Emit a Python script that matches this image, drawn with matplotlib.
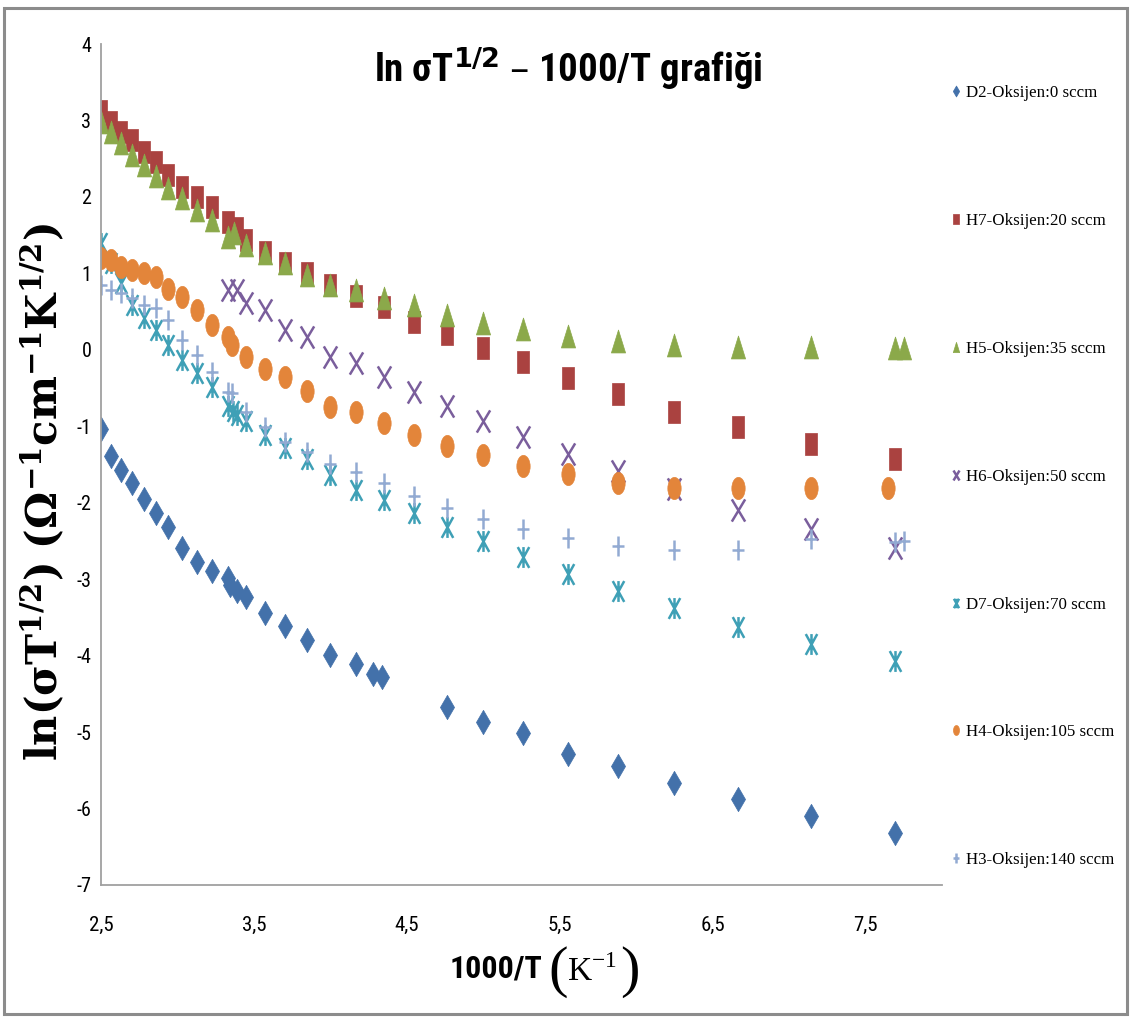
import matplotlib
matplotlib.use("Agg")
import matplotlib.pyplot as plt
from matplotlib.path import Path
from matplotlib.transforms import Affine2D
from matplotlib.patches import Rectangle

# ---- data: x = 1000/T (K^-1), y = ln(sigma*T^1/2) ----
d2_x = [2.500, 2.564, 2.632, 2.703, 2.778, 2.857, 2.941, 3.030, 3.125, 3.226,
        3.333, 3.345, 3.390, 3.448, 3.571, 3.704, 3.846, 4.000, 4.167, 4.280,
        4.340, 4.762, 5.000, 5.263, 5.556, 5.882, 6.250, 6.667, 7.143, 7.692]
d2_y = [-1.04, -1.39, -1.57, -1.74, -1.95, -2.13, -2.32, -2.59, -2.78, -2.89,
        -2.98, -3.08, -3.15, -3.23, -3.44, -3.61, -3.80, -3.99, -4.11, -4.24,
        -4.28, -4.67, -4.87, -5.01, -5.29, -5.44, -5.67, -5.87, -6.10, -6.32]

h7_x = [2.500, 2.564, 2.632, 2.703, 2.778, 2.857, 2.941, 3.030, 3.125, 3.226,
        3.333, 3.390, 3.448, 3.571, 3.704, 3.846, 4.000, 4.167, 4.348, 4.545,
        4.762, 5.000, 5.263, 5.556, 5.882, 6.250, 6.667, 7.143, 7.692]
h7_y = [3.12, 2.98, 2.85, 2.74, 2.59, 2.46, 2.29, 2.13, 2.00, 1.87,
        1.67, 1.59, 1.43, 1.28, 1.14, 1.00, 0.85, 0.71, 0.56, 0.36,
        0.21, 0.02, -0.16, -0.37, -0.58, -0.81, -1.01, -1.23, -1.43]

h5_x = [2.500, 2.564, 2.632, 2.703, 2.778, 2.857, 2.941, 3.030, 3.125, 3.226,
        3.333, 3.370, 3.448, 3.571, 3.704, 3.846, 4.000, 4.167, 4.348, 4.545,
        4.762, 5.000, 5.263, 5.556, 5.882, 6.250, 6.667, 7.143, 7.692, 7.752]
h5_y = [2.98, 2.85, 2.70, 2.55, 2.42, 2.27, 2.12, 1.99, 1.83, 1.70,
        1.47, 1.53, 1.37, 1.27, 1.14, 0.98, 0.85, 0.78, 0.68, 0.59,
        0.46, 0.35, 0.27, 0.18, 0.11, 0.06, 0.04, 0.04, 0.03, 0.03]

h6_x = [3.333, 3.390, 3.448, 3.571, 3.704, 3.846, 4.000, 4.167, 4.348, 4.545,
        4.762, 5.000, 5.263, 5.556, 5.882, 6.250, 6.667, 7.143, 7.692]
h6_y = [0.78, 0.78, 0.61, 0.52, 0.26, 0.17, -0.09, -0.17, -0.36, -0.55,
        -0.73, -0.93, -1.14, -1.36, -1.58, -1.82, -2.10, -2.34, -2.59]

d7_x = [2.500, 2.564, 2.632, 2.703, 2.778, 2.857, 2.941, 3.030, 3.125, 3.226,
        3.333, 3.360, 3.390, 3.448, 3.571, 3.704, 3.846, 4.000, 4.167, 4.348,
        4.545, 4.762, 5.000, 5.263, 5.556, 5.882, 6.250, 6.667, 7.143, 7.692]
d7_y = [1.40, 1.14, 0.87, 0.59, 0.42, 0.26, 0.06, -0.13, -0.30, -0.49,
        -0.74, -0.80, -0.85, -0.93, -1.11, -1.28, -1.43, -1.64, -1.83, -1.96,
        -2.13, -2.32, -2.50, -2.71, -2.93, -3.15, -3.38, -3.63, -3.85, -4.07]

h4_x = [2.500, 2.564, 2.632, 2.703, 2.778, 2.857, 2.941, 3.030, 3.125, 3.226,
        3.333, 3.356, 3.448, 3.571, 3.704, 3.846, 4.000, 4.167, 4.348, 4.545,
        4.762, 5.000, 5.263, 5.556, 5.882, 6.250, 6.667, 7.143, 7.650]
h4_y = [1.20, 1.17, 1.08, 1.04, 1.00, 0.95, 0.80, 0.69, 0.52, 0.33,
        0.17, 0.06, -0.10, -0.25, -0.35, -0.54, -0.75, -0.81, -0.96, -1.11,
        -1.26, -1.38, -1.52, -1.62, -1.74, -1.81, -1.81, -1.81, -1.81]

h3_x = [2.500, 2.564, 2.632, 2.703, 2.778, 2.857, 2.941, 3.030, 3.125, 3.226,
        3.333, 3.356, 3.448, 3.571, 3.704, 3.846, 4.000, 4.167, 4.348, 4.545,
        4.762, 5.000, 5.263, 5.556, 5.882, 6.250, 6.667, 7.143, 7.692, 7.752]
h3_y = [0.85, 0.78, 0.74, 0.68, 0.59, 0.55, 0.39, 0.13, -0.07, -0.29,
        -0.55, -0.57, -0.81, -1.01, -1.21, -1.34, -1.49, -1.60, -1.74, -1.91,
        -2.07, -2.21, -2.34, -2.46, -2.57, -2.62, -2.62, -2.47, -2.51, -2.50]

series_labels = ["D2-Oksijen:0 sccm", "H7-Oksijen:20 sccm", "H5-Oksijen:35 sccm",
                 "H6-Oksijen:50 sccm", "D7-Oksijen:70 sccm", "H4-Oksijen:105 sccm",
                 "H3-Oksijen:140 sccm"]

x_ticks = [2.5, 3.5, 4.5, 5.5, 6.5, 7.5]
x_tick_labels = ["2,5", "3,5", "4,5", "5,5", "6,5", "7,5"]
y_ticks = [4, 3, 2, 1, 0, -1, -2, -3, -4, -5, -6, -7]
y_tick_labels = ["4", "3", "2", "1", "0", "-1", "-2", "-3", "-4", "-5", "-6", "-7"]

# ---- marker shapes (narrow, tall) ----
SX = 0.58
M, L, C = Path.MOVETO, Path.LINETO, Path.CLOSEPOLY
mk_diamond = Path([(0, 1), (SX, 0), (0, -1), (-SX, 0), (0, 1)], [M, L, L, L, C])
mk_square = Path([(-SX, -1), (SX, -1), (SX, 1), (-SX, 1), (-SX, -1)], [M, L, L, L, C])
mk_triangle = Path([(0, 1), (0.62, -1), (-0.62, -1), (0, 1)], [M, L, L, C])
mk_ellipse = Affine2D().scale(0.6, 1.0).transform_path(Path.unit_circle())
mk_x = Path([(-0.6, -1), (0.6, 1), (-0.6, 1), (0.6, -1)], [M, L, M, L])
mk_star = Path([(-0.55, -1), (0.55, 1), (-0.55, 1), (0.55, -1), (0, -1), (0, 1)],
               [M, L, M, L, M, L])
mk_plus = Path([(-0.62, 0), (0.62, 0), (0, -1), (0, 1)], [M, L, M, L])

col_d2 = "#4371AA"
col_h7 = "#AA4240"
col_h5 = "#8BA94A"
col_h6 = "#7A5E9C"
col_d7 = "#3FA0B6"
col_h4 = "#E3853A"
col_h3 = "#92AAD2"

narrow = ["Liberation Sans Narrow", "DejaVu Sans Condensed", "Roboto Condensed",
          "Open Sans Condensed", "DejaVu Sans"]
serif = ["Liberation Serif", "DejaVu Serif"]

fig = plt.figure(figsize=(11.31, 10.18), dpi=100)
ax = fig.add_axes([101 / 1131, 1 - 885 / 1018, (942 - 101) / 1131, (885 - 44) / 1018])

ax.plot(d2_x, d2_y, linestyle="none", marker=mk_diamond, ms=17.5, color=col_d2,
        mec=col_d2, mew=0.5, label=series_labels[0])
ax.plot(h7_x, h7_y, linestyle="none", marker=mk_square, ms=16, color=col_h7,
        mec=col_h7, mew=0.5, label=series_labels[1])
ax.plot(h5_x, h5_y, linestyle="none", marker=mk_triangle, ms=16.5, color=col_h5,
        mec=col_h5, mew=0.5, label=series_labels[2])
ax.plot(h6_x, h6_y, linestyle="none", marker=mk_x, ms=16, color=col_h6,
        mfc="none", mec=col_h6, mew=1.8, label=series_labels[3])
ax.plot(d7_x, d7_y, linestyle="none", marker=mk_star, ms=15, color=col_d7,
        mfc="none", mec=col_d7, mew=1.8, label=series_labels[4])
ax.plot(h4_x, h4_y, linestyle="none", marker=mk_ellipse, ms=16, color=col_h4,
        mec=col_h4, mew=0.5, label=series_labels[5])
ax.plot(h3_x, h3_y, linestyle="none", marker=mk_plus, ms=14.5, color=col_h3,
        mfc="none", mec=col_h3, mew=1.8, label=series_labels[6])

ax.set_xlim(2.5, 8.0)
ax.set_ylim(-7, 4)
ax.set_xticks(x_ticks)
ax.set_xticklabels(x_tick_labels, family=narrow, fontstretch="condensed", fontsize=15)
ax.set_yticks(y_ticks)
ax.set_yticklabels(y_tick_labels, family=narrow, fontstretch="condensed", fontsize=14.5)
ax.tick_params(axis="both", length=0)
ax.tick_params(axis="x", pad=22)
ax.tick_params(axis="y", pad=7)

for side in ("top", "right"):
    ax.spines[side].set_visible(False)
for side in ("left", "bottom"):
    ax.spines[side].set_color("#A0A0A0")
    ax.spines[side].set_linewidth(1.3)
ax.patch.set_alpha(0)

# title
fig.text(568 / 1131, 1 - 68 / 1018, r"ln σT$\mathbf{^{1/2}}$ – 1000/T grafiği",
         family=narrow, fontstretch="condensed", fontweight="bold", fontsize=28,
         ha="center", va="center")

# x axis title: 1000/T (K^-1) with tall brackets
fig.text(496 / 1131, 1 - 968 / 1018, "1000/T",
         family=narrow, fontstretch="condensed", fontweight="bold", fontsize=23,
         ha="center", va="center")
fig.text(558 / 1131, 1 - 972 / 1018, "(", family=serif, fontsize=42,
         ha="center", va="center")
fig.text(592 / 1131, 1 - 972 / 1018, r"K$^{\mathregular{-1}}$", family=serif,
         fontsize=24, ha="center", va="center")
fig.text(630 / 1131, 1 - 972 / 1018, ")", family=serif, fontsize=42,
         ha="center", va="center")

# y axis title
fig.text(43 / 1131, 1 - 492 / 1018,
         r"$\mathbf{ln(\sigma T^{1/2})\ (\Omega^{-1}cm^{-1}K^{1/2})}$",
         math_fontfamily="dejavuserif", fontsize=30, rotation=90,
         ha="center", va="center")

leg = fig.legend(loc="upper left", bbox_to_anchor=(936 / 1131, 1 - 70 / 1018),
                 frameon=False, markerscale=0.45, handlelength=0.6,
                 handletextpad=0.25, labelspacing=6.6,
                 prop={"family": "Liberation Serif", "size": 12.2})

fig.patches.append(Rectangle((4 / 1131, 4 / 1018), 1123 / 1131, 1006 / 1018,
                             transform=fig.transFigure, fill=False,
                             edgecolor="#8C8C8C", linewidth=2.2))

fig.savefig("out.png", dpi=100)
